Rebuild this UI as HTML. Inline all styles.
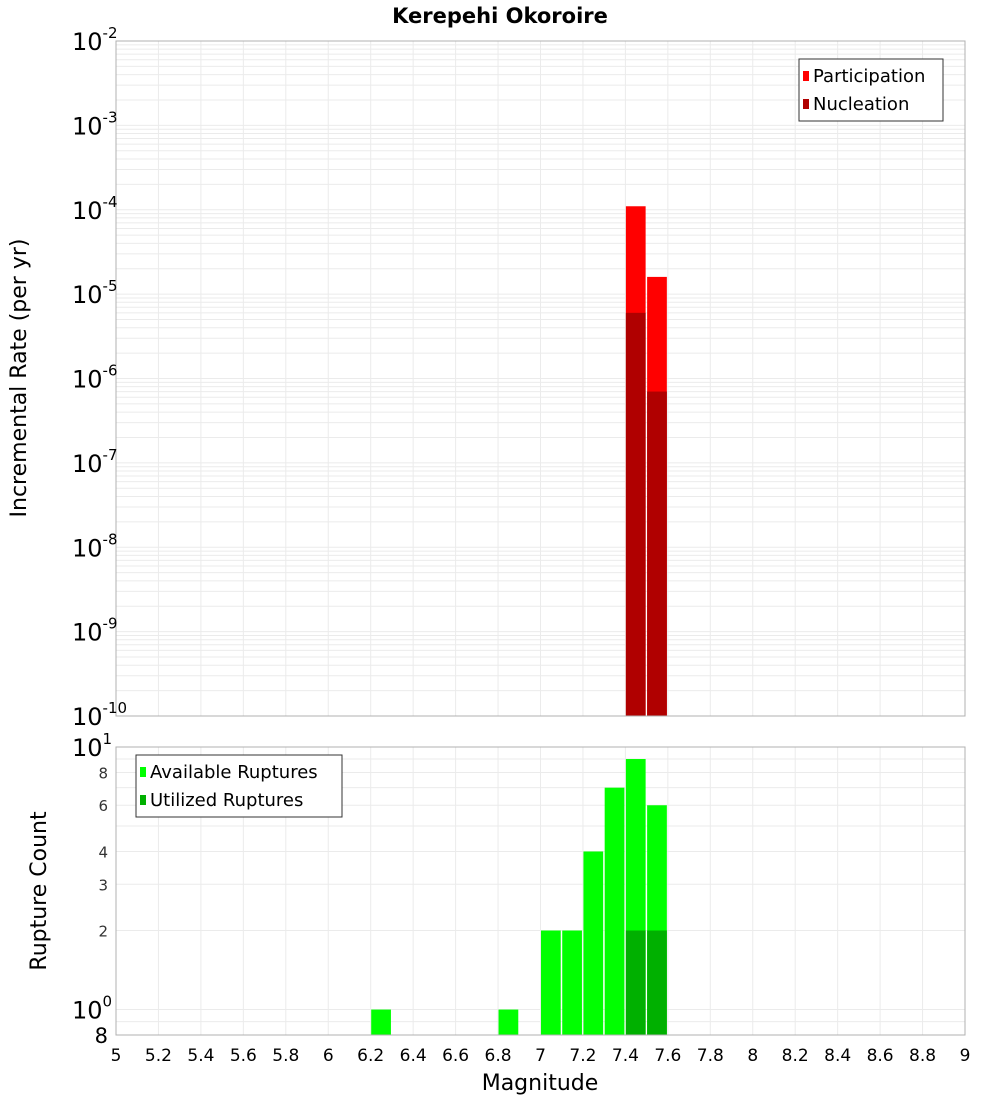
<!DOCTYPE html>
<html><head><meta charset="utf-8"><style>body{margin:0;background:#fff}svg{display:block;font-family:"DejaVu Sans","Liberation Sans",sans-serif}</style></head>
<body>
<svg id="c" width="1000" height="1100" xmlns="http://www.w3.org/2000/svg">
<text x="500" y="23" text-anchor="middle" font-size="21" font-weight="bold">Kerepehi Okoroire</text>
<g id="top"></g><g id="bot"></g>
<text transform="translate(26,378) rotate(-90)" text-anchor="middle" font-size="22">Incremental Rate (per yr)</text>
<text transform="translate(46,891) rotate(-90)" text-anchor="middle" font-size="22">Rupture Count</text>
<text x="540" y="1090" text-anchor="middle" font-size="22">Magnitude</text>
</svg>
<script>
const binCenters=[6.25,6.85,7.05,7.15,7.25,7.35,7.45,7.55];
const available=[1,1,2,2,4,7,9,6];
const utilized=[0,0,0,0,0,0,2,2];
const rateMags=[7.45,7.55];
const participation=[1.1e-4,1.6e-5];
const nucleation=[6e-6,7e-7];
const xTicks=[5,5.2,5.4,5.6,5.8,6,6.2,6.4,6.6,6.8,7,7.2,7.4,7.6,7.8,8,8.2,8.4,8.6,8.8,9];
const topExps=[-10,-9,-8,-7,-6,-5,-4,-3,-2];
const botTicks=[2,3,4,6,8];

const NS="http://www.w3.org/2000/svg";
const X0=116,X1=965;
const x=m=>X0+(m-5)/4*(X1-X0);
const T0=41,T1=716;
const yT=v=>T0+(-2-Math.log10(v))/8*(T1-T0);
const B0=747,B1=1035,bl=Math.log10(0.8);
const yB=v=>B0+(1-Math.log10(v))/(1-bl)*(B1-B0);
function el(p,t,a,name,txt){const e=document.createElementNS(NS,t);for(const k in a)e.setAttribute(k,a[k]);


if(txt!==undefined)e.textContent=txt;p.appendChild(e);return e;}
const gTop=document.getElementById('top'),gBot=document.getElementById('bot');
xTicks.forEach(t=>{
 el(gTop,'line',{x1:x(t),x2:x(t),y1:T0,y2:T1,stroke:'#ebebeb'},'top-x-gridline');
 el(gBot,'line',{x1:x(t),x2:x(t),y1:B0,y2:B1,stroke:'#ebebeb'},'bottom-x-gridline');
});
for(let e=-10;e<-2;e++)for(let k=1;k<10;k++){const v=k*Math.pow(10,e);
 el(gTop,'line',{x1:X0,x2:X1,y1:yT(v),y2:yT(v),stroke:'#ebebeb'},'top-y-gridline');}
[0.8,0.9,1,2,3,4,5,6,7,8,9].forEach(v=>el(gBot,'line',{x1:X0,x2:X1,y1:yB(v),y2:yB(v),stroke:'#ebebeb'},'bottom-y-gridline'));
const w=x(5.1)-x(5)-1.5;
rateMags.forEach((m,i)=>{
 el(gTop,'rect',{x:x(m-0.05)+0.5,y:yT(participation[i]),width:w,height:T1-yT(participation[i]),fill:'#ff0000'},'participation-bar');
 el(gTop,'rect',{x:x(m-0.05)+0.5,y:yT(nucleation[i]),width:w,height:T1-yT(nucleation[i]),fill:'#b00000'},'nucleation-bar');
});
binCenters.forEach((m,i)=>{
 el(gBot,'rect',{x:x(m-0.05)+0.5,y:yB(available[i]),width:w,height:B1-yB(available[i]),fill:'#00ff00'},'available-bar');
 if(utilized[i]>0)el(gBot,'rect',{x:x(m-0.05)+0.5,y:yB(utilized[i]),width:w,height:B1-yB(utilized[i]),fill:'#00b000'},'utilized-bar');
});
el(gTop,'rect',{x:X0,y:T0,width:X1-X0,height:T1-T0,fill:'none',stroke:'#b0b0b0'},'top-plot-frame');
el(gBot,'rect',{x:X0,y:B0,width:X1-X0,height:B1-B0,fill:'none',stroke:'#b0b0b0'},'bottom-plot-frame');
topExps.forEach(e=>{const t=el(gTop,'text',{x:72,y:yT(Math.pow(10,e))+9,'font-size':24},'top-y-tick-label','10');
 const s=document.createElementNS(NS,'tspan');s.setAttribute('dy','-12');s.setAttribute('font-size','15');s.textContent=String(e);t.appendChild(s);});
[[1,'1'],[0,'0']].forEach(([e,s])=>{const t=el(gBot,'text',{x:72,y:yB(Math.pow(10,e))+9,'font-size':24},'bottom-y-tick-label','10');
 const sp=document.createElementNS(NS,'tspan');sp.setAttribute('dy','-12');sp.setAttribute('font-size','15');sp.textContent=s;t.appendChild(sp);});
botTicks.forEach(v=>el(gBot,'text',{x:108,y:yB(v)+6,'text-anchor':'end','font-size':15,fill:'#333'},'bottom-y-tick-label',String(v)));
el(gBot,'text',{x:108,y:B1+8,'text-anchor':'end','font-size':21},'bottom-y-tick-label','8');
xTicks.forEach(t=>el(gBot,'text',{x:x(t),y:1061,'text-anchor':'middle','font-size':17},'x-tick-label',String(Math.round(t*10)/10)));
function legend(p,lx,ly,lw,items,name){const g=el(p,'g',{},name);
 el(g,'rect',{x:lx,y:ly,width:lw,height:items.length*28+6,fill:'#fff',stroke:'#333'},name+'-box');
 items.forEach((it,i)=>{el(g,'rect',{x:lx+4,y:ly+12+i*28,width:6,height:10,fill:it[1]},name+'-swatch');
 el(g,'text',{x:lx+14,y:ly+23+i*28,'font-size':18},name+'-label',it[0]);});}
legend(gTop,799,59,144,[['Participation','#ff0000'],['Nucleation','#b00000']],'top-legend');
legend(gBot,136,755,206,[['Available Ruptures','#00ff00'],['Utilized Ruptures','#00b000']],'bottom-legend');
</script>
</body></html>
